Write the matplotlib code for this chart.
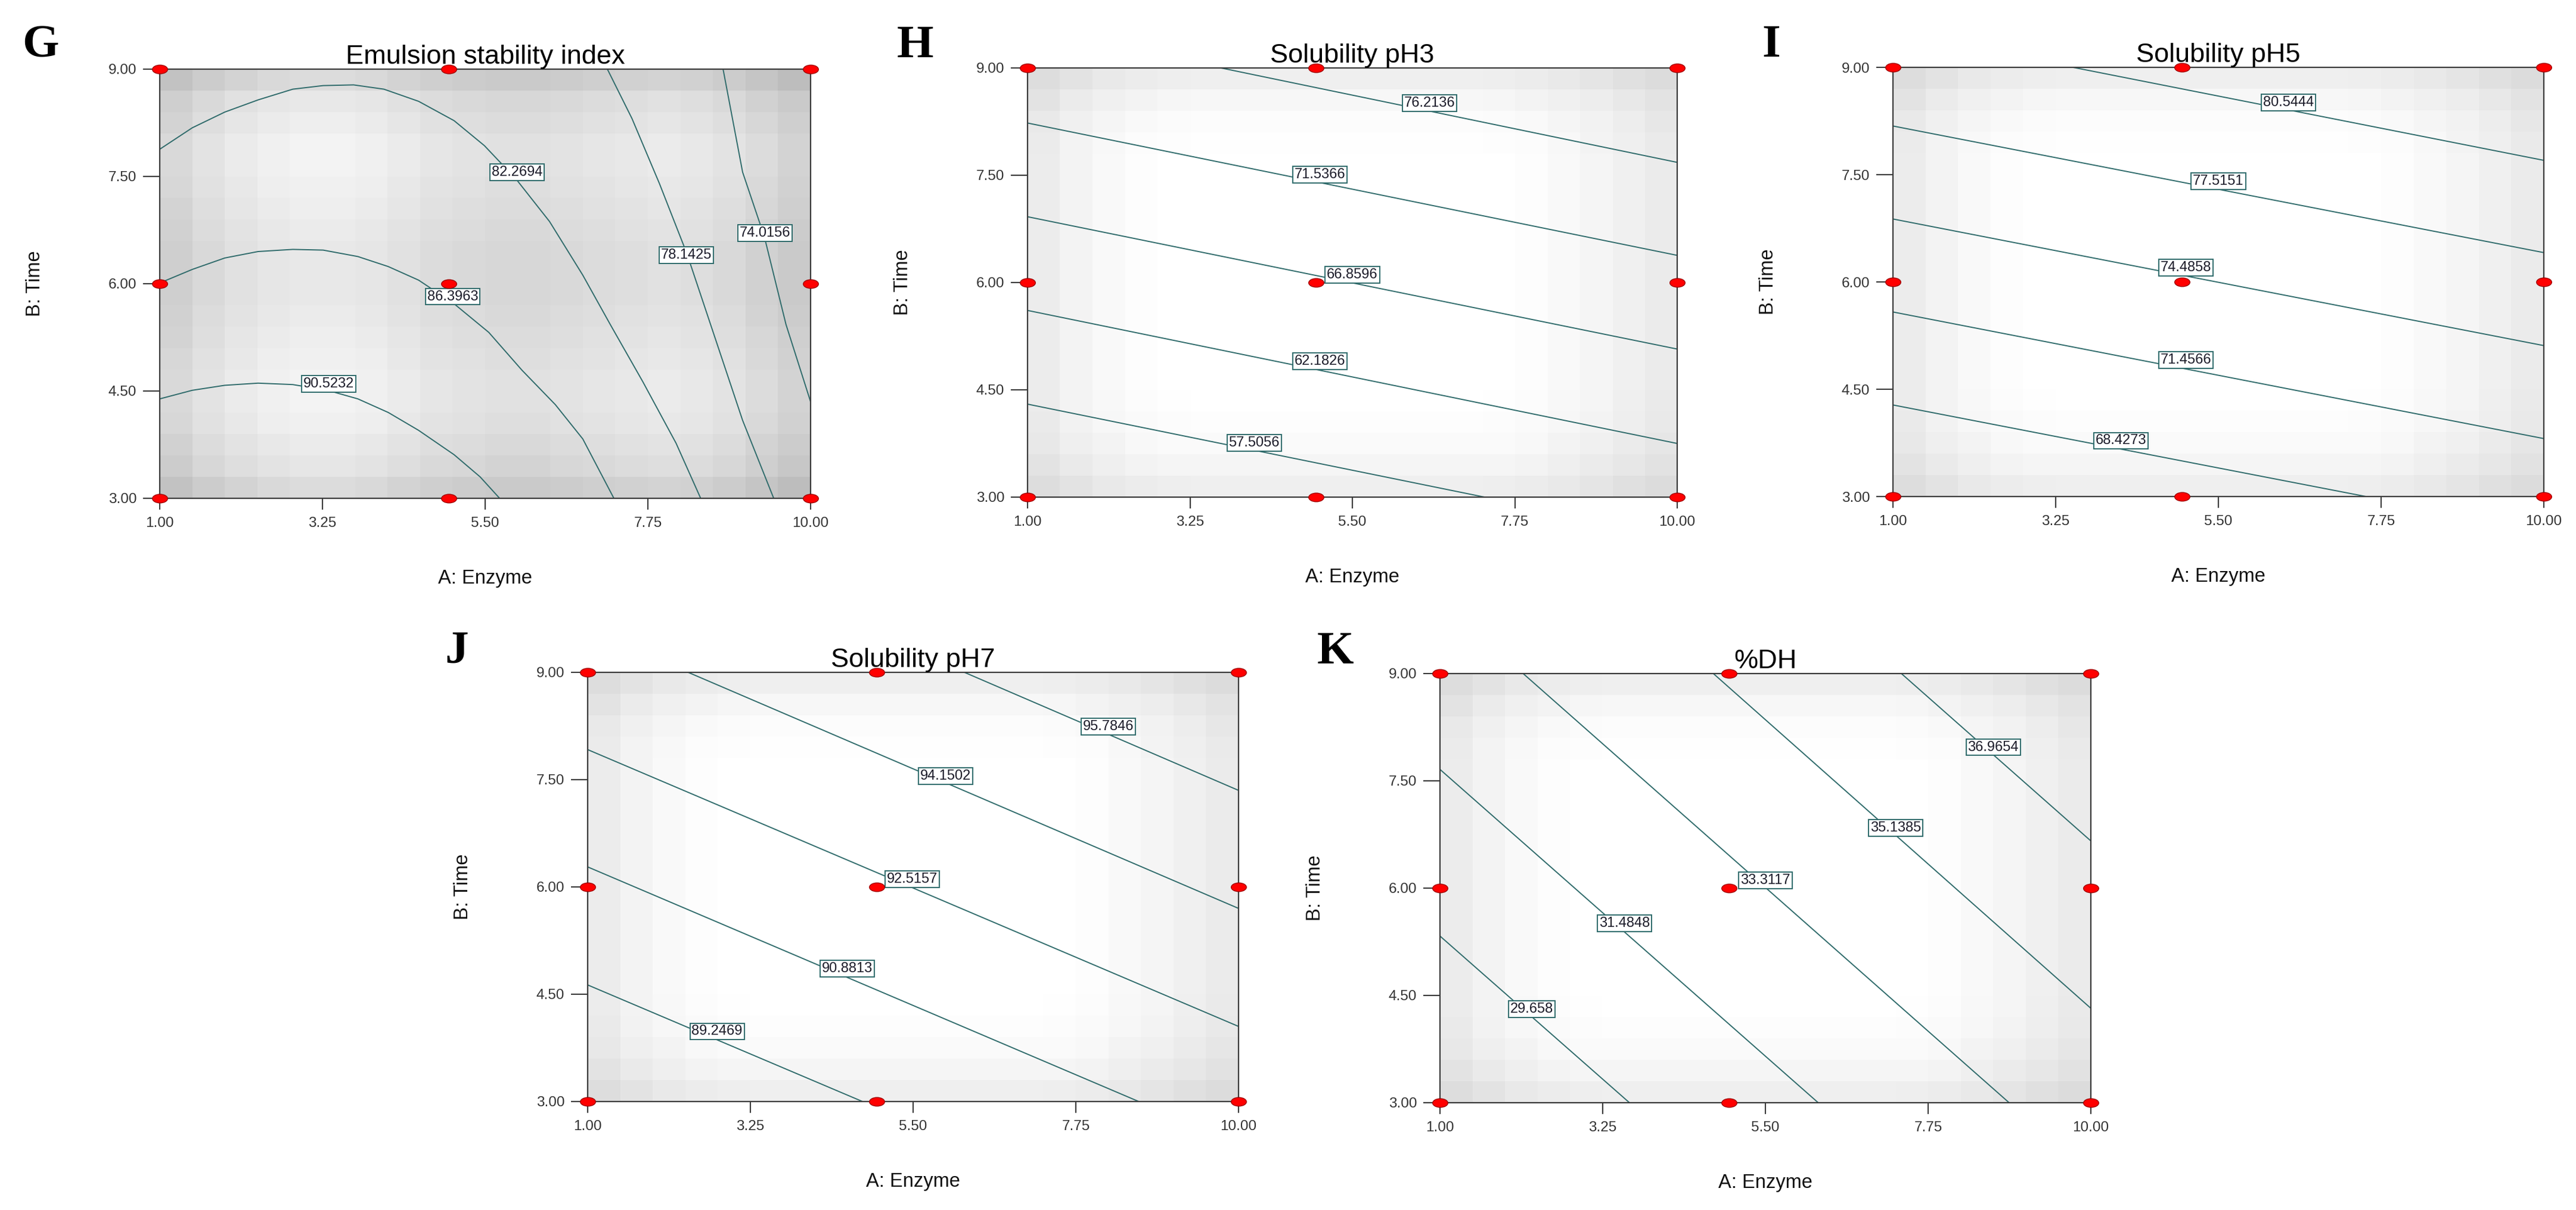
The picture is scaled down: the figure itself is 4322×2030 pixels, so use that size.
import matplotlib
matplotlib.use("Agg")
import matplotlib.pyplot as plt
import numpy as np
from matplotlib.markers import MarkerStyle
from matplotlib.transforms import Affine2D

plt.rcParams["font.family"] = ["Liberation Sans", "DejaVu Sans"]

# design points (A: Enzyme, B: Time)
design_a = [1.0, 5.0, 10.0]
design_b = [3.0, 6.0, 9.0]

x_ticks = [1.00, 3.25, 5.50, 7.75, 10.00]
y_ticks = [3.00, 4.50, 6.00, 7.50, 9.00]

# G: Emulsion stability index (curved contours)
g_levels = ["90.5232", "86.3963", "82.2694", "78.1425", "74.0156"]
g_lines_x = [
    [1.00, 1.45, 1.90, 2.36, 2.84, 3.32, 3.74, 4.16, 4.58, 5.07, 5.43, 5.70],
    [1.00, 1.45, 1.90, 2.36, 2.84, 3.26, 3.74, 4.16, 4.58, 5.07, 5.55, 6.01, 6.47, 6.85, 7.28],
    [1.00, 1.45, 1.90, 2.36, 2.84, 3.26, 3.68, 4.10, 4.58, 5.07, 5.49, 5.93, 6.39, 6.85, 7.23,
     7.68, 8.14, 8.48],
    [7.19, 7.53, 7.91, 8.29, 8.67, 9.06, 9.49],
    [8.79, 9.06, 9.36, 9.66, 10.00],
]
g_lines_y = [
    [4.39, 4.51, 4.58, 4.61, 4.59, 4.51, 4.39, 4.20, 3.95, 3.61, 3.30, 3.00],
    [6.01, 6.20, 6.36, 6.45, 6.48, 6.47, 6.38, 6.24, 6.05, 5.72, 5.32, 4.79, 4.31, 3.83, 3.00],
    [7.88, 8.18, 8.40, 8.57, 8.72, 8.77, 8.78, 8.72, 8.55, 8.28, 7.93, 7.46, 6.87, 6.12, 5.43,
     4.63, 3.77, 3.00],
    [9.00, 8.31, 7.40, 6.42, 5.27, 4.09, 3.00],
    [9.00, 7.56, 6.66, 5.43, 4.35],
]
g_label_x = [3.34, 5.05, 5.94, 8.28, 9.37]
g_label_y = [4.60, 5.82, 7.56, 6.40, 6.71]

# H: Solubility pH3 (straight contours, endpoints)
h_levels = ["76.2136", "71.5366", "66.8596", "62.1826", "57.5056"]
h_lines_x = [[3.68, 10.0], [1.0, 10.0], [1.0, 10.0], [1.0, 10.0], [1.0, 7.33]]
h_lines_y = [[9.0, 7.68], [8.23, 6.38], [6.92, 5.07], [5.61, 3.75], [4.30, 3.0]]
h_label_x = [6.57, 5.05, 5.50, 5.05, 4.14]
h_label_y = [8.51, 7.51, 6.11, 4.90, 3.76]

# I: Solubility pH5
i_levels = ["80.5444", "77.5151", "74.4858", "71.4566", "68.4273"]
i_lines_x = [[3.49, 10.0], [1.0, 10.0], [1.0, 10.0], [1.0, 10.0], [1.0, 7.54]]
i_lines_y = [[9.0, 7.70], [8.18, 6.41], [6.88, 5.11], [5.58, 3.81], [4.28, 3.0]]
i_label_x = [6.47, 5.50, 5.05, 5.05, 4.15]
i_label_y = [8.51, 7.41, 6.20, 4.91, 3.78]

# J: Solubility pH7
j_levels = ["95.7846", "94.1502", "92.5157", "90.8813", "89.2469"]
j_lines_x = [[6.21, 10.0], [2.39, 10.0], [1.0, 10.0], [1.0, 8.62], [1.0, 4.80]]
j_lines_y = [[9.0, 7.35], [9.0, 5.70], [7.92, 4.05], [6.28, 3.0], [4.63, 3.0]]
j_label_x = [8.20, 5.95, 5.49, 4.59, 2.79]
j_label_y = [8.24, 7.55, 6.11, 4.86, 3.98]

# K: %DH
k_levels = ["36.9654", "35.1385", "33.3117", "31.4848", "29.658"]
k_lines_x = [[7.38, 10.0], [4.78, 10.0], [2.15, 8.87], [1.0, 6.23], [1.0, 3.62]]
k_lines_y = [[9.0, 6.66], [9.0, 4.32], [9.0, 3.0], [7.66, 3.0], [5.33, 3.0]]
k_label_x = [8.65, 7.30, 5.50, 3.55, 2.27]
k_label_y = [7.97, 6.84, 6.11, 5.51, 4.31]

# background shading profiles (style only): 20 columns (A) x 20 rows (B, top->bottom)
g_shade_cols = [0.84, 0.88, 0.91, 0.93, 0.94, 0.94, 0.93, 0.91, 0.89, 0.88,
                0.87, 0.87, 0.88, 0.89, 0.90, 0.91, 0.90, 0.88, 0.85, 0.82]
g_shade_rows = [0.84, 0.89, 0.91, 0.93, 0.93, 0.92, 0.91, 0.90, 0.89, 0.89,
                0.89, 0.90, 0.91, 0.92, 0.93, 0.93, 0.92, 0.90, 0.88, 0.84]
w_shade_cols = [0.925, 0.955, 0.975, 0.99, 0.997, 1.0, 1.0, 1.0, 1.0, 1.0,
                1.0, 1.0, 1.0, 1.0, 0.997, 0.99, 0.975, 0.96, 0.94, 0.92]
w_shade_rows = [0.935, 0.965, 0.985, 0.995, 1.0, 1.0, 1.0, 1.0, 1.0, 1.0,
                1.0, 1.0, 1.0, 1.0, 1.0, 0.997, 0.99, 0.98, 0.96, 0.935]

line_color = "#2f6b6b"
W, H = 4322, 2030

fig = plt.figure(figsize=(W / 100, H / 100), dpi=100)


def make_ax(left, top, right, bottom):
    return fig.add_axes([left / W, 1 - bottom / H, (right - left) / W, (bottom - top) / H])


def draw_panel(ax, title, lines_x, lines_y, levels, lab_x, lab_y, shade, letter, letter_xy):
    ax.imshow(shade, cmap="gray", vmin=0, vmax=1, extent=(1, 10, 3, 9),
              aspect="auto", interpolation="nearest", origin="upper", zorder=0)
    for xs, ys in zip(lines_x, lines_y):
        ax.plot(xs, ys, color=line_color, lw=1.4, zorder=2)
    for lev, lx, ly in zip(levels, lab_x, lab_y):
        ax.text(lx, ly, lev, ha="center", va="center", fontsize=17, color="#1c1c2a", zorder=4,
                bbox=dict(boxstyle="square,pad=0.12", fc="white", ec=line_color, lw=1.4))
    ax.set_xlim(1, 10)
    ax.set_ylim(3, 9)
    ax.set_xticks(x_ticks)
    ax.set_xticklabels([f"{v:.2f}" for v in x_ticks])
    ax.set_yticks(y_ticks)
    ax.set_yticklabels([f"{v:.2f}" for v in y_ticks])
    ax.tick_params(axis="x", length=13.5, width=1.5, pad=9, labelsize=17.5,
                   colors="#3a3a3a", labelcolor="#333333")
    ax.tick_params(axis="y", length=20, width=1.5, pad=8, labelsize=17.5,
                   colors="#3a3a3a", labelcolor="#333333")
    for sp in ax.spines.values():
        sp.set_color("#3a3a3a")
        sp.set_linewidth(1.6)
    # design points
    mk = MarkerStyle("o", transform=Affine2D().scale(1.75, 1.0))
    pa, pb = np.meshgrid(design_a, design_b)
    ax.plot(pa.ravel(), pb.ravel(), linestyle="none", marker=mk, markersize=10.5,
            markerfacecolor="#ff0000", markeredgecolor="#a00000", markeredgewidth=1.0,
            clip_on=False, zorder=5)
    ax.set_title(title, fontsize=32.5, pad=5, color="black")
    ax.set_xlabel("A: Enzyme", fontsize=23.5, color="#111111")
    ax.set_ylabel("B: Time", fontsize=23.5, color="#111111")
    ax.xaxis.set_label_coords(0.5, -0.165)
    ax.yaxis.set_label_coords(-0.178, 0.5)
    fig.text(letter_xy[0] / W, 1 - letter_xy[1] / H, letter, fontsize=57, fontweight="bold",
             family=["Liberation Serif", "DejaVu Serif"], ha="left", va="baseline")


g_shade = np.add.outer(g_shade_rows, g_shade_cols) - 0.92
w_shade = np.multiply.outer(w_shade_rows, w_shade_cols)

ax_g = make_ax(268, 116, 1360, 836)
ax_h = make_ax(1724, 114, 2814, 834)
ax_i = make_ax(3176, 113, 4268, 833)
ax_j = make_ax(986, 1128, 2078, 1848)
ax_k = make_ax(2416, 1130, 3508, 1850)

draw_panel(ax_g, "Emulsion stability index", g_lines_x, g_lines_y, g_levels,
           g_label_x, g_label_y, g_shade, "G", (37, 96))
draw_panel(ax_h, "Solubility pH3", h_lines_x, h_lines_y, h_levels,
           h_label_x, h_label_y, w_shade, "H", (1505, 96))
draw_panel(ax_i, "Solubility pH5", i_lines_x, i_lines_y, i_levels,
           i_label_x, i_label_y, w_shade, "I", (2956, 95))
draw_panel(ax_j, "Solubility pH7", j_lines_x, j_lines_y, j_levels,
           j_label_x, j_label_y, w_shade, "J", (746, 1112))
draw_panel(ax_k, "%DH", k_lines_x, k_lines_y, k_levels,
           k_label_x, k_label_y, w_shade, "K", (2210, 1113))

fig.savefig("out.png", dpi=100, facecolor="white")
